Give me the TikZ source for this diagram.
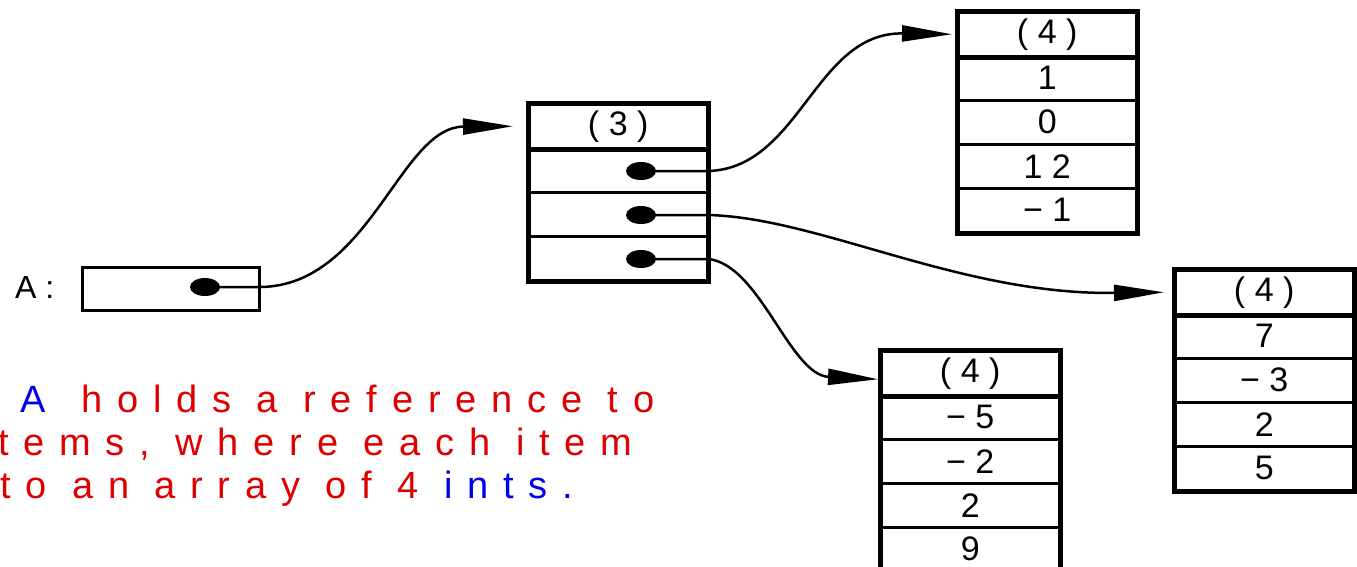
\documentclass[tikz,border=0pt]{standalone}
\usepackage{fontspec}
\setmainfont{Liberation Sans}
\newfontfamily\pixfont{Liberation Sans}[LetterSpace=28]
\newfontfamily\txtfont{Liberation Sans}[LetterSpace=39]
\usetikzlibrary{arrows.meta,shapes.geometric}
\definecolor{tred}{RGB}{222,0,0}
\definecolor{tblue}{RGB}{0,0,230}
\tikzset{
  cell/.style={draw, line width=2.5pt, minimum width=178pt, minimum height=44pt,
    inner sep=0pt, anchor=north west, font=\pixfont\fontsize{34}{34}\selectfont},
  outer/.style={line width=4pt},
  hdr/.style={line width=5pt},
  dot/.style={ellipse, fill=black, minimum width=30pt, minimum height=18pt, inner sep=0pt},
  conn/.style={line width=2.5pt, -{Triangle[length=50pt,width=16pt]}},
  note/.style={anchor=base west, inner sep=0pt, font=\txtfont\fontsize{38}{38}\selectfont},
  label/.style={anchor=west, inner sep=0pt, font=\pixfont\fontsize{32}{32}\selectfont}
}
\begin{document}
\begin{tikzpicture}[x=1pt,y=-1pt]
\useasboundingbox (0,0) rectangle (1357,566);
\clip (0,0) rectangle (1357,566);
\fill[white] (0,0) rectangle (1357,566);

% variable A
\node[label] (alab) at (15,287) {A:};
\node[draw, line width=3pt, minimum width=177pt, minimum height=43pt, inner sep=0pt, anchor=north west] (abox) at (81,266) {};
\node[dot] (ad) at (205,287) {};

% middle array (3)
\node[cell] (m0) at (528,103) {(3)};
\node[cell] (m1) at (528,147) {};
\node[cell] (m2) at (528,191) {};
\node[cell] (m3) at (528,235) {};
\draw[outer] (m0.north west) rectangle (m3.south east);
\draw[hdr] (m0.south west) -- (m0.south east);
\node[dot] (d1) at (641,171) {};
\node[dot] (d2) at (641,215) {};
\node[dot] (d3) at (641,259) {};

% top right array
\node[cell] (t0) at (957,11) {(4)};
\node[cell] (t1) at (957,55) {1};
\node[cell] (t2) at (957,99) {0};
\node[cell] (t3) at (957,143) {12};
\node[cell] (t4) at (957,187) {−1};
\draw[outer] (t0.north west) rectangle (t4.south east);
\draw[hdr] (t0.south west) -- (t0.south east);

% right array
\node[cell] (r0) at (1174,269) {(4)};
\node[cell] (r1) at (1174,313) {7};
\node[cell] (r2) at (1174,357) {−3};
\node[cell] (r3) at (1174,401) {2};
\node[cell] (r4) at (1174,445) {5};
\draw[outer] (r0.north west) rectangle (r4.south east);
\draw[hdr] (r0.south west) -- (r0.south east);

% bottom array
\node[cell] (b0) at (880,350) {(4)};
\node[cell] (b1) at (880,394) {−5};
\node[cell] (b2) at (880,438) {−2};
\node[cell] (b3) at (880,482) {2};
\node[cell] (b4) at (880,526) {9};
\draw[outer] (b0.north west) rectangle (b4.south east);
\draw[hdr] (b0.south west) -- (b0.south east);

% connectors
\draw[conn] (ad.center) -- (abox.east |- ad.center)
  .. controls (370,285) and (400,127) .. ([xshift=-15pt]m0.west);
\draw[conn] (d1.center) -- (m1.east |- d1.center)
  .. controls (800,168) and (815,32) .. ([xshift=-5pt]t0.west);
\draw[conn] (d2.center) -- (m2.east |- d2.center)
  .. controls (820,218) and (960,295) .. ([xshift=-10pt]r0.west);
\draw[conn] (d3.center) -- (m3.east |- d3.center)
  .. controls (760,265) and (790,375) .. ([xshift=-2pt,yshift=-6pt]b0.west);

% note text
\node[note] (n1) at (20,412) {\textcolor{tblue}{A}\hspace{36pt}\textcolor{tred}{holds a reference to}};
\node[note] (n2) at (-2,455) {\textcolor{tred}{tems, where each item}};
\node[note] (n3) at (0,498) {\textcolor{tred}{to an array of 4 }\textcolor{tblue}{ints.}};
\end{tikzpicture}
\end{document}
